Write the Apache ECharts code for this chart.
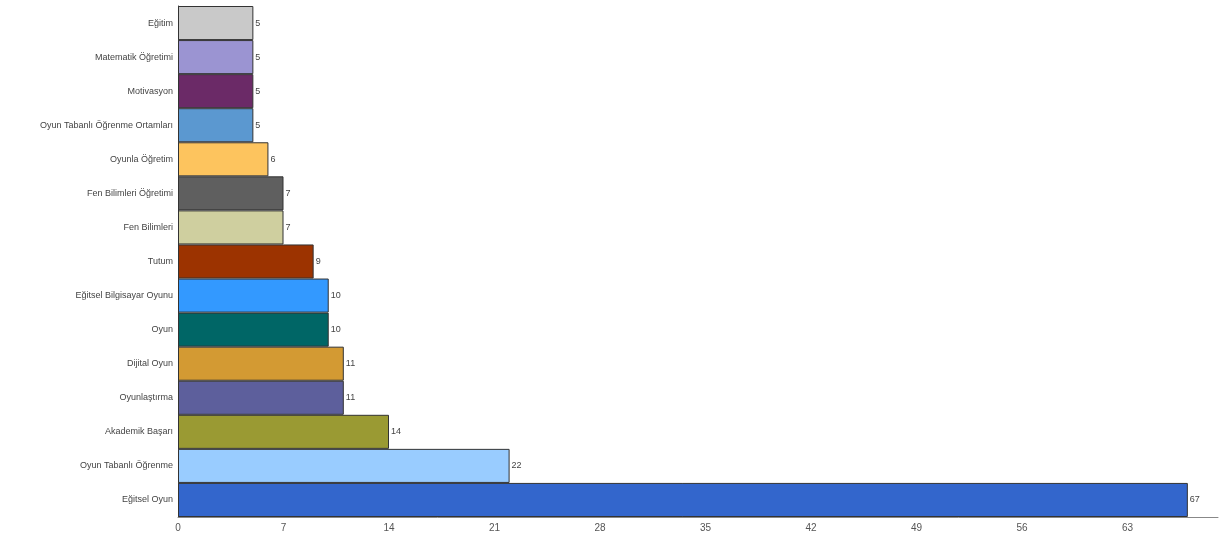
<!DOCTYPE html>
<html>
<head>
<meta charset="utf-8">
<script src="https://cdn.jsdelivr.net/npm/echarts@6/dist/echarts.min.js"></script>
<style>
  html, body { margin: 0; padding: 0; background: #fff; }
  #container { width: 1224px; height: 538px; }
</style>
</head>
<body>
<div id="container"></div>
<script>
// categories top to bottom
const categories = [
    'Eğitim', 'Matematik Öğretimi', 'Motivasyon', 'Oyun Tabanlı Öğrenme Ortamları',
    'Oyunla Öğretim', 'Fen Bilimleri Öğretimi', 'Fen Bilimleri', 'Tutum',
    'Eğitsel Bilgisayar Oyunu', 'Oyun', 'Dijital Oyun', 'Oyunlaştırma',
    'Akademik Başarı', 'Oyun Tabanlı Öğrenme', 'Eğitsel Oyun'
];
const counts = [5, 5, 5, 5, 6, 7, 7, 9, 10, 10, 11, 11, 14, 22, 67];
const barColors = [
    '#c9c9c9', '#9b94d2', '#6b2a67', '#5b98d0',
    '#fdc45e', '#5f5f5f', '#cfcf9f', '#9c3300',
    '#3399ff', '#006666', '#d39a33', '#5d5f9c',
    '#9a9a33', '#99ccff', '#3366cc'
];

const dom = document.getElementById('container');
const chart = echarts.init(dom);

const seriesData = counts.map(function (v, i) {
    return { value: v, itemStyle: { color: barColors[i] } };
});

chart.setOption({
    animation: false,
    grid: { left: 178, right: 6, top: 6, bottom: 21 },
    xAxis: {
        type: 'value',
        min: 0,
        max: 69,
        interval: 7,
        splitLine: { show: false },
        axisLine: { show: true, lineStyle: { color: '#888' } },
        axisTick: { show: false },
        axisLabel: { color: '#555', fontSize: 10, fontFamily: 'Liberation Sans', showMaxLabel: false, margin: 6 }
    },
    yAxis: {
        type: 'category',
        data: categories,
        inverse: true,
        axisLine: { show: true, lineStyle: { color: '#333' } },
        axisTick: { show: false },
        axisLabel: { color: '#444', fontSize: 9, fontFamily: 'Liberation Sans', margin: 5 }
    },
    series: [{
        type: 'bar',
        data: seriesData,
        barCategoryGap: '0%',
        itemStyle: { borderColor: '#333', borderWidth: 1 },
        label: {
            show: true,
            position: 'right',
            distance: 2,
            color: '#444',
            fontSize: 9,
            fontFamily: 'Liberation Sans'
        }
    }]
});
</script>
</body>
</html>
